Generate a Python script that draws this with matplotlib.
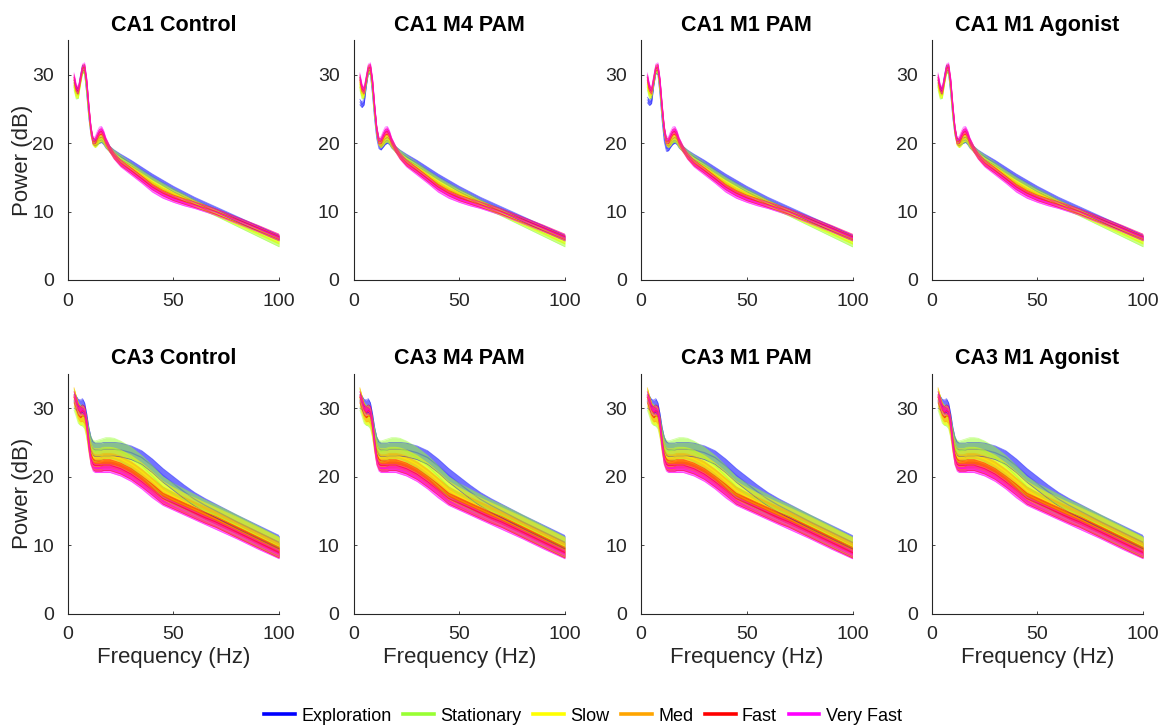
import matplotlib
matplotlib.use("Agg")
import matplotlib.pyplot as plt
from matplotlib.lines import Line2D
import numpy as np

plt.rcParams['font.family'] = ['Liberation Sans', 'DejaVu Sans']

# ---------------- data ----------------
FREQ = [3, 4, 5, 6, 7, 8, 9, 10, 11, 12, 13, 14, 15, 16, 17, 18, 20, 22, 25,
        30, 35, 40, 45, 50, 55, 60, 65, 70, 80, 90, 100]

SERIES = ["Exploration", "Stationary", "Slow", "Med", "Fast", "Very Fast"]
COLORS = ["#0000ff", "#99ff33", "#ffff00", "#ffa500", "#ff0000", "#ff00ff"]

ROW_TITLES = [["CA1 Control", "CA1 M4 PAM", "CA1 M1 PAM", "CA1 M1 Agonist"],
              ["CA3 Control", "CA3 M4 PAM", "CA3 M1 PAM", "CA3 M1 Agonist"]]

# CA1 mean power (dB)
CA1_EXPLORATION = [28.8, 27.8, 27.5, 29.5, 31.0, 30.5, 27.5, 24.0, 21.5, 20.3, 20.0, 20.2, 20.4, 20.5, 20.2, 19.7, 19.1, 18.6, 18.0,
                   17.1, 16.1, 15.1, 14.2, 13.3, 12.5, 11.7, 11.0, 10.3, 8.9, 7.5, 6.1]
CA1_STATIONARY = [28.2, 26.9, 27.0, 29.0, 30.6, 30.6, 28.0, 24.5, 21.8, 20.2, 19.8, 20.1, 20.5, 20.6, 20.3, 19.8, 19.1, 18.5, 17.8,
                  16.7, 15.6, 14.6, 13.7, 12.9, 12.1, 11.3, 10.5, 9.8, 8.3, 6.8, 5.3]
CA1_SLOW = [28.5, 27.0, 27.0, 29.0, 30.7, 30.8, 28.3, 24.5, 21.6, 20.0, 19.7, 20.0, 20.5, 20.7, 20.4, 19.8, 19.0, 18.3, 17.5,
            16.5, 15.4, 14.4, 13.5, 12.7, 12.0, 11.2, 10.5, 9.8, 8.4, 7.0, 5.6]
CA1_MED = [29.2, 27.6, 27.4, 29.2, 30.9, 31.0, 28.7, 25.0, 21.9, 20.1, 19.9, 20.4, 21.0, 21.2, 20.8, 20.0, 19.0, 18.1, 17.2,
           16.2, 15.1, 14.0, 13.1, 12.4, 11.8, 11.2, 10.6, 10.0, 8.7, 7.4, 6.1]
CA1_FAST = [29.6, 28.0, 27.6, 29.3, 31.0, 31.1, 28.9, 25.2, 22.0, 20.3, 20.3, 21.0, 21.6, 21.7, 21.2, 20.3, 19.1, 18.1, 17.1,
            16.0, 14.8, 13.6, 12.7, 12.0, 11.5, 11.0, 10.5, 10.0, 8.8, 7.6, 6.3]
CA1_VERYFAST = [29.8, 28.2, 27.7, 29.4, 31.1, 31.3, 29.1, 25.4, 22.1, 20.4, 20.5, 21.3, 21.9, 22.0, 21.4, 20.4, 19.1, 18.1, 17.0,
                15.8, 14.6, 13.3, 12.4, 11.8, 11.3, 10.9, 10.4, 9.9, 8.7, 7.5, 6.2]
# panels where the Exploration curve starts lower
CA1_M4PAM_EXPLORATION = [26.0, 25.6, 26.0, 28.6, 30.6, 30.4, 27.4, 23.8, 21.0, 19.6, 19.4, 19.8, 20.2, 20.4, 20.2, 19.7, 19.1, 18.6, 18.0,
                         17.1, 16.1, 15.1, 14.2, 13.3, 12.5, 11.7, 11.0, 10.3, 8.9, 7.5, 6.1]
CA1_M1PAM_EXPLORATION = [26.3, 25.9, 26.2, 28.7, 30.6, 30.4, 27.4, 23.6, 20.6, 19.2, 19.3, 19.8, 20.2, 20.4, 20.2, 19.7, 19.1, 18.6, 18.0,
                         17.1, 16.1, 15.1, 14.2, 13.3, 12.5, 11.7, 11.0, 10.3, 8.9, 7.5, 6.1]
CA1_SEM = [0.4, 0.45, 0.35, 0.35, 0.4, 0.45]

# CA3 mean power (dB)
CA3_EXPLORATION = [31.0, 30.8, 30.3, 30.2, 30.4, 29.8, 28.2, 26.2, 24.8, 24.1, 23.9, 23.9, 23.9, 23.9, 24.0, 24.0, 24.0, 24.0, 23.9,
                   23.5, 22.8, 21.6, 20.2, 19.0, 17.8, 16.7, 15.8, 15.0, 13.4, 11.9, 10.4]
CA3_STATIONARY = [31.2, 30.3, 29.3, 29.0, 28.9, 28.5, 27.2, 25.5, 24.3, 23.8, 23.7, 23.8, 23.9, 24.0, 24.1, 24.2, 24.2, 24.1, 23.7,
                  22.8, 21.6, 20.1, 18.5, 17.5, 16.7, 15.9, 15.1, 14.4, 12.9, 11.3, 9.7]
CA3_SLOW = [31.6, 30.5, 29.4, 28.9, 29.0, 28.6, 27.1, 25.0, 23.6, 22.9, 22.8, 22.8, 22.8, 22.9, 23.0, 23.0, 23.0, 22.9, 22.6,
            21.8, 20.7, 19.4, 18.0, 17.1, 16.3, 15.6, 14.9, 14.2, 12.8, 11.3, 9.8]
CA3_MED = [31.9, 30.7, 29.6, 29.1, 29.2, 28.8, 27.1, 24.6, 23.0, 22.3, 22.1, 22.1, 22.1, 22.2, 22.3, 22.3, 22.3, 22.2, 21.9,
           21.1, 20.0, 18.7, 17.4, 16.6, 15.9, 15.2, 14.5, 13.8, 12.3, 10.8, 9.3]
CA3_FAST = [31.6, 30.8, 29.8, 29.4, 29.7, 29.5, 27.8, 24.8, 22.6, 21.8, 21.6, 21.6, 21.6, 21.6, 21.7, 21.7, 21.7, 21.5, 21.2,
            20.4, 19.3, 18.1, 16.8, 16.1, 15.4, 14.7, 14.0, 13.4, 11.9, 10.4, 8.9]
CA3_VERYFAST = [31.8, 30.9, 29.9, 29.5, 29.8, 29.6, 27.8, 24.7, 22.3, 21.4, 21.2, 21.2, 21.2, 21.2, 21.2, 21.2, 21.2, 21.0, 20.7,
                19.9, 18.8, 17.5, 16.4, 15.7, 15.0, 14.3, 13.6, 12.9, 11.5, 10.0, 8.6]
CA3_SEM = [1.0, 1.5, 1.3, 1.1, 0.8, 0.6]

ROW_DATA = [
    [CA1_EXPLORATION, CA1_STATIONARY, CA1_SLOW, CA1_MED, CA1_FAST, CA1_VERYFAST],
    [CA3_EXPLORATION, CA3_STATIONARY, CA3_SLOW, CA3_MED, CA3_FAST, CA3_VERYFAST],
]
ROW_SEM = [CA1_SEM, CA3_SEM]
# per-panel replacements: (row, col, series index) -> curve
PANEL_OVERRIDES = {(0, 1, 0): CA1_M4PAM_EXPLORATION, (0, 2, 0): CA1_M1PAM_EXPLORATION}

XTICKS = [0, 50, 100]
YTICKS = [0, 10, 20, 30]

# ---------------- figure ----------------
W, H = 1166, 725
fig = plt.figure(figsize=(W / 100, H / 100), dpi=100)

col_left = [67.7, 353.5, 641.0, 931.7]
ax_w = 211.5
row_bottom = [280.0, 613.5]
ax_h = 239.5

TXT = "#262626"
f = np.array(FREQ)
for r in range(2):
    for c in range(4):
        ax = fig.add_axes([col_left[c] / W, 1 - row_bottom[r] / H, ax_w / W, ax_h / H])
        for k in range(6):
            m = np.array(PANEL_OVERRIDES.get((r, c, k), ROW_DATA[r][k]))
            s = ROW_SEM[r][k]
            ax.fill_between(f, m - s, m + s, color=COLORS[k], alpha=0.55, lw=0)
            ax.plot(f, m - s, color=COLORS[k], lw=0.6, alpha=0.45)
            ax.plot(f, m + s, color=COLORS[k], lw=0.6, alpha=0.45)
            ax.plot(f, m, color=COLORS[k], lw=0.9, alpha=0.5 if k else 0.25)
        ax.set_xlim(0, 100)
        ax.set_ylim(0, 35)
        ax.set_xticks(XTICKS)
        ax.set_yticks(YTICKS)
        for sp in ["top", "right"]:
            ax.spines[sp].set_visible(False)
        for sp in ["left", "bottom"]:
            ax.spines[sp].set_color(TXT)
            ax.spines[sp].set_linewidth(0.8)
        ax.tick_params(direction="in", length=2.5, width=0.6, colors=TXT,
                       labelsize=14, labelcolor=TXT)
        ax.tick_params(axis="x", pad=9)
        ax.tick_params(axis="y", pad=10)
        ax.set_title(ROW_TITLES[r][c], fontsize=15.5, fontweight="bold", pad=7, color="black")
        if c == 0:
            ax.set_ylabel("Power (dB)", fontsize=16, color=TXT, labelpad=-0.5)
        if r == 1:
            ax.set_xlabel("Frequency (Hz)", fontsize=16, color=TXT, labelpad=3)

leg_handles = [Line2D([0], [0], color=COLORS[k], lw=2.6) for k in range(6)]
fig.legend(leg_handles, SERIES, loc="center", bbox_to_anchor=(0.5, 0.012), ncol=6,
           frameon=False, fontsize=13, handlelength=1.7, handletextpad=0.35,
           columnspacing=0.65, borderpad=0, borderaxespad=0)

fig.savefig("out.png", dpi=100)
